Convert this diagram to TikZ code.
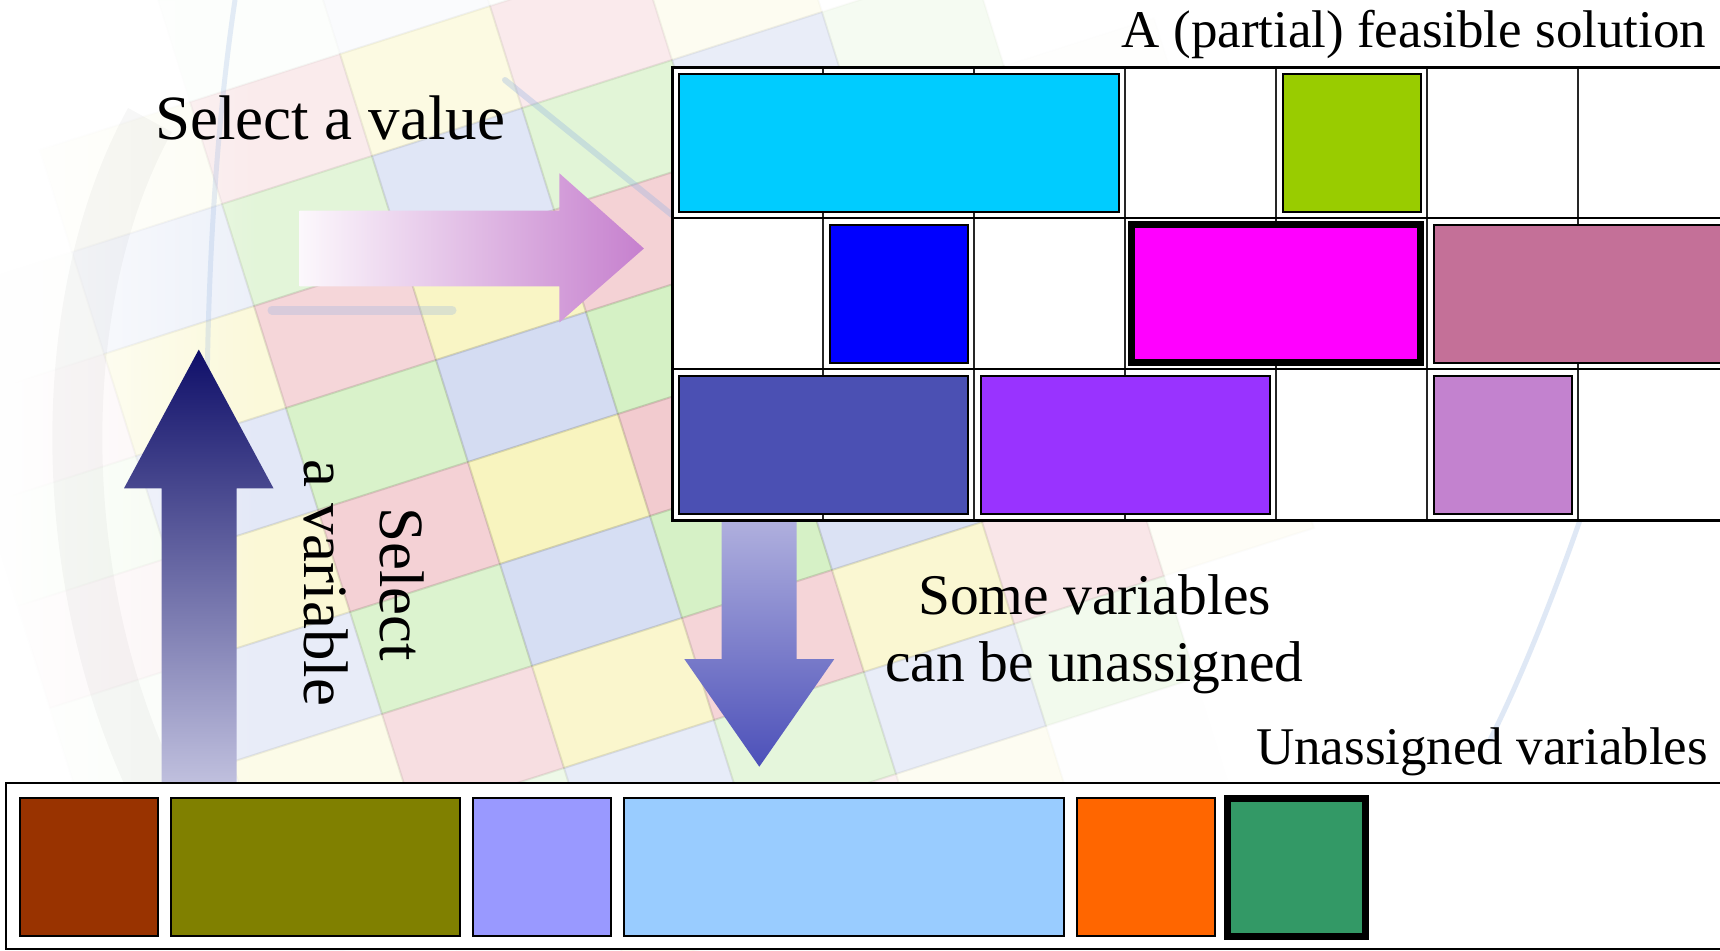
\documentclass[tikz,border=0pt]{standalone}
\usepackage{fontspec}
\setmainfont{Liberation Serif}
\usetikzlibrary{fadings}

% box fills
\definecolor{cCyan}{HTML}{00CCFF}
\definecolor{cLime}{HTML}{99CC00}
\definecolor{cBlue}{HTML}{0000FF}
\definecolor{cMag}{HTML}{FF00FF}
\definecolor{cMauve}{HTML}{C47098}
\definecolor{cIndigo}{HTML}{4B50B3}
\definecolor{cPurple}{HTML}{9933FF}
\definecolor{cLilac}{HTML}{C382CF}
\definecolor{cBrown}{HTML}{993300}
\definecolor{cOlive}{HTML}{808000}
\definecolor{cPeri}{HTML}{9999FF}
\definecolor{cSky}{HTML}{99CCFF}
\definecolor{cOrange}{HTML}{FF6600}
\definecolor{cSea}{HTML}{339966}
% block arrows
\definecolor{pinkL}{RGB}{252,248,252}
\definecolor{pinkR}{RGB}{198,128,206}
\definecolor{navyTop}{RGB}{15,15,105}
\definecolor{navyBot}{RGB}{192,192,222}
\definecolor{dropTop}{RGB}{176,176,222}
\definecolor{dropBot}{RGB}{76,80,185}
% background tiles
\definecolor{tileA}{RGB}{240,230,100}
\definecolor{tileB}{RGB}{225,130,140}
\definecolor{tileC}{RGB}{150,220,110}
\definecolor{tileD}{RGB}{150,170,225}
\definecolor{tileEdge}{RGB}{90,90,70}
\definecolor{ringblue}{RGB}{150,180,225}

\tikzset{
  cellbox/.style={draw=black, line width=2bp},
  heavybox/.style={draw=black, line width=7bp},
  lbl/.style={inner sep=0pt, anchor=base, text=black},
  bigtxt/.style={lbl, font=\fontsize{63bp}{76bp}\selectfont},
  midtxt/.style={lbl, font=\fontsize{57.5bp}{69bp}\selectfont},
  smalltxt/.style={lbl, font=\fontsize{53bp}{64bp}\selectfont},
}

% a box covering #5 cells of width 151, starting at cell #4 of a row whose
% top-left corner is (#2,#3); #6 is the fill colour
\newcommand\slotbox[6][cellbox]{%
  \draw[#1, fill=#6] ({#2+151*#4+6.5},{#3+6.5}) rectangle ({#2+151*(#4+#5)-6.5},{#3+151-6.5});}

\begin{document}
\begin{tikzpicture}[x=1bp, y=-1bp]
\useasboundingbox (0,0) rectangle (1720,950);
\clip (0,0) rectangle (1720,950);
\fill[white] (0,0) rectangle (1720,950);

% faded globe of coloured tiles in the background
\foreach \i in {-3,...,10}{
  \foreach \j in {-3,...,10}{
    \pgfmathsetmacro\cx{40+150*(\i+0.5)+32*(\j+0.5)}
    \pgfmathsetmacro\cy{150-48*(\i+0.5)+102*(\j+0.5)}
    \pgfmathsetmacro\fd{max(0,1-((\cx-620)/650)^2-((\cy-440)/520)^2)}
    \pgfmathsetmacro\fo{0.42*\fd}
    \pgfmathsetmacro\eo{0.12*\fd}
    \pgfmathtruncatemacro\ci{2*mod(\i+\j+20,2)+mod((\i+20)*(1-mod(\i+\j+20,2))+(\j+20)*mod(\i+\j+20,2),2)}
    \edef\cn{\ifcase\ci A\or C\or B\or D\fi}
    \ifdim\fd pt>0.001pt
      \filldraw[fill=tile\cn, draw=tileEdge, fill opacity=\fo, draw opacity=\eo, line width=2bp]
        ({40+150*\i+32*\j},{150-48*\i+102*\j}) -- ++(150,-48) -- ++(32,102) -- ++(-150,48) -- cycle;
    \fi
  }
}
% the globe washes out towards the left edge
\fill[white, path fading=east] (0,0) rectangle (260,950);
% faint rim of the globe and its blue ring
\draw[black, opacity=0.03, line width=50bp] (150,120) .. controls (50,300) and (50,600) .. (170,820);
\draw[ringblue, opacity=0.25, line width=5bp, line cap=round] (235,0) .. controls (205,200) and (195,500) .. (225,780);
\draw[ringblue, opacity=0.35, line width=6bp, line cap=round] (505,80) -- (672,215);
\draw[ringblue, opacity=0.3, line width=9bp, line cap=round] (272,310) -- (452,310);
\draw[ringblue, opacity=0.3, line width=5bp, line cap=round] (1580,520) .. controls (1545,620) and (1515,690) .. (1490,740);

% block arrows
\shade[left color=pinkL, right color=pinkR]
  (299.5,210.6) -- (559.4,210.6) -- (559.4,173.3) -- (643.9,248.5)
  -- (559.4,322.5) -- (559.4,286.3) -- (299.5,286.3) -- cycle;
\shade[top color=navyTop, bottom color=navyBot]
  (161.5,784) -- (161.5,488.3) -- (124,488.3) -- (198.8,349.5)
  -- (273.5,488.3) -- (236.5,488.3) -- (236.5,784) -- cycle;
\shade[top color=dropTop, bottom color=dropBot]
  (721.7,519) -- (796.7,519) -- (796.7,659) -- (834.3,659)
  -- (759.3,766.7) -- (684.3,659) -- (721.7,659) -- cycle;

% the partial solution: a 3 x 7 grid of cells
\fill[white] (672,67) rectangle (1729,520);
\foreach \k in {1,...,6}
  \draw[black!85, line width=1.5bp] ({672+151*\k},67) -- ({672+151*\k},520);
\foreach \r in {1,2}
  \draw[black, line width=2.5bp] (672,{67+151*\r}) -- (1729,{67+151*\r});
\draw[black, line width=3bp] (672,67) rectangle (1729,520);

\slotbox{672}{67}{0}{3}{cCyan}
\slotbox{672}{67}{4}{1}{cLime}
\slotbox{672}{218}{1}{1}{cBlue}
\slotbox[heavybox]{672}{218}{3}{2}{cMag}
\slotbox{672}{218}{5}{2}{cMauve}
\slotbox{672}{369}{0}{2}{cIndigo}
\slotbox{672}{369}{2}{2}{cPurple}
\slotbox{672}{369}{5}{1}{cLilac}

% the pool of unassigned variables
\draw[black, line width=2.5bp, fill=white] (6,783) rectangle (1730,949);
\slotbox{13.2}{791.5}{0}{1}{cBrown}
\slotbox{13.2}{791.5}{1}{2}{cOlive}
\slotbox{13.2}{791.5}{3}{1}{cPeri}
\slotbox{13.2}{791.5}{4}{3}{cSky}
\slotbox{13.2}{791.5}{7}{1}{cOrange}
\slotbox[heavybox]{13.2}{791.5}{8}{1}{cSea}

% labels
\node[bigtxt] (selval) at (330,139) {Select a value};
\node[bigtxt, rotate=-90] (selvarA) at (380.5,584) {Select};
\node[bigtxt, rotate=-90] (selvarB) at (304.5,583) {a variable};
\node[smalltxt] (partial) at (1414,47) {A (partial) feasible solution};
\node[midtxt] (someA) at (1094.5,614.3) {Some variables};
\node[midtxt] (someB) at (1094.5,681.7) {can be unassigned};
\node[smalltxt] (unassigned) at (1482,764.3) {Unassigned variables};
\end{tikzpicture}
\end{document}
